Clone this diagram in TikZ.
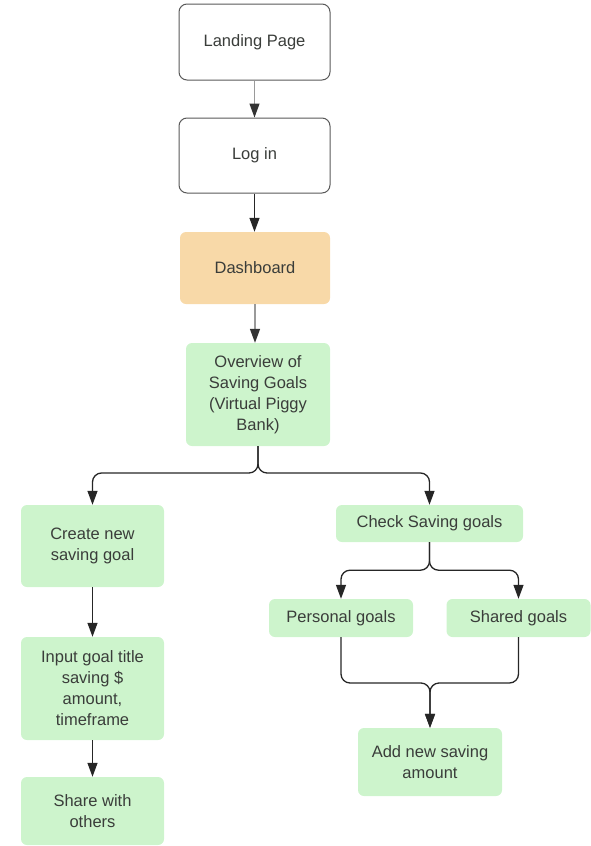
\documentclass[tikz,border=0pt]{standalone}
\usepackage{fontspec}
\setmainfont{Liberation Sans}
\usetikzlibrary{arrows.meta}
\definecolor{goalgreen}{HTML}{CDF4CC}
\definecolor{dashorange}{HTML}{F8D9A8}
\definecolor{txtgray}{HTML}{3A3D3A}
\definecolor{linegray}{HTML}{9A9A9A}
\tikzset{
  page/.style={draw=black!65,line width=1pt,fill=white,rounded corners=8pt,
    minimum width=151pt,minimum height=76pt,inner sep=0pt},
  goal/.style={fill=goalgreen,rounded corners=6pt,minimum width=144pt,
    inner sep=0pt,align=center},
  link/.style={line width=1.3pt,draw=black!85,rounded corners=9pt,
    -{Triangle[length=14pt,width=10pt]}},
  toplink/.style={link,draw=linegray,-{Triangle[length=14pt,width=10pt,color=black!80]}}
}

\begin{document}
\begin{tikzpicture}[x=1pt,y=-1pt,font=\fontsize{16.5}{21}\selectfont,text=txtgray]
\useasboundingbox (0,0) rectangle (591,846);
%\draw[help lines] (0,0) grid[step=50] (591,846);
\node[page] (landing) at (254.5,42) {Landing Page};
\node[page,minimum height=75pt] (login) at (254.5,155.5) {Log in};
\node[goal,fill=dashorange,minimum width=150pt,minimum height=72pt] (dashboard) at (255,268) {Dashboard};
\node[goal,minimum height=103pt] (overview) at (258,394.5) {Overview of\\Saving Goals\\(Virtual Piggy\\Bank)};
\node[goal,minimum width=143pt,minimum height=82pt] (create) at (92.5,546) {Create new\\saving goal};
\node[goal,minimum width=143pt,minimum height=103pt] (input) at (92.5,688.5) {Input goal title\\saving \$\\amount,\\timeframe};
\node[goal,minimum width=143pt,minimum height=68pt] (share) at (92.5,811) {Share with\\others};
\node[goal,minimum width=187pt,minimum height=37pt] (check) at (429.5,523.5) {Check Saving goals};
\node[goal,minimum height=38pt] (personal) at (341,618) {Personal goals};
\node[goal,minimum height=38pt] (shared) at (518.5,618) {Shared goals};
\node[goal,minimum height=68pt] (addamount) at (430,762) {Add new saving\\amount};

\coordinate (split) at (258,473);
\coordinate (merge) at (430,683);

\draw[toplink] (landing.south) -- (login.north);
\draw[link] (login.south) -- (login.south |- dashboard.north);
\draw[toplink] (dashboard.south) -- (dashboard.south |- overview.north);
\draw[link] (overview.south) -- (split) -| (create.north);
\draw[link] (overview.south) -- (split) -| (check.north);
\draw[link] (create.south) -- (input.north);
\draw[link] (input.south) -- (share.north);
\draw[link] (check.south) -- ++(0,28) -| (personal.north);
\draw[link] (check.south) -- ++(0,28) -| (shared.north);
\draw[link] (personal.south) |- (merge) -- (addamount.north);
\draw[link] (shared.south) |- (merge) -- (addamount.north);
\end{tikzpicture}
\end{document}
